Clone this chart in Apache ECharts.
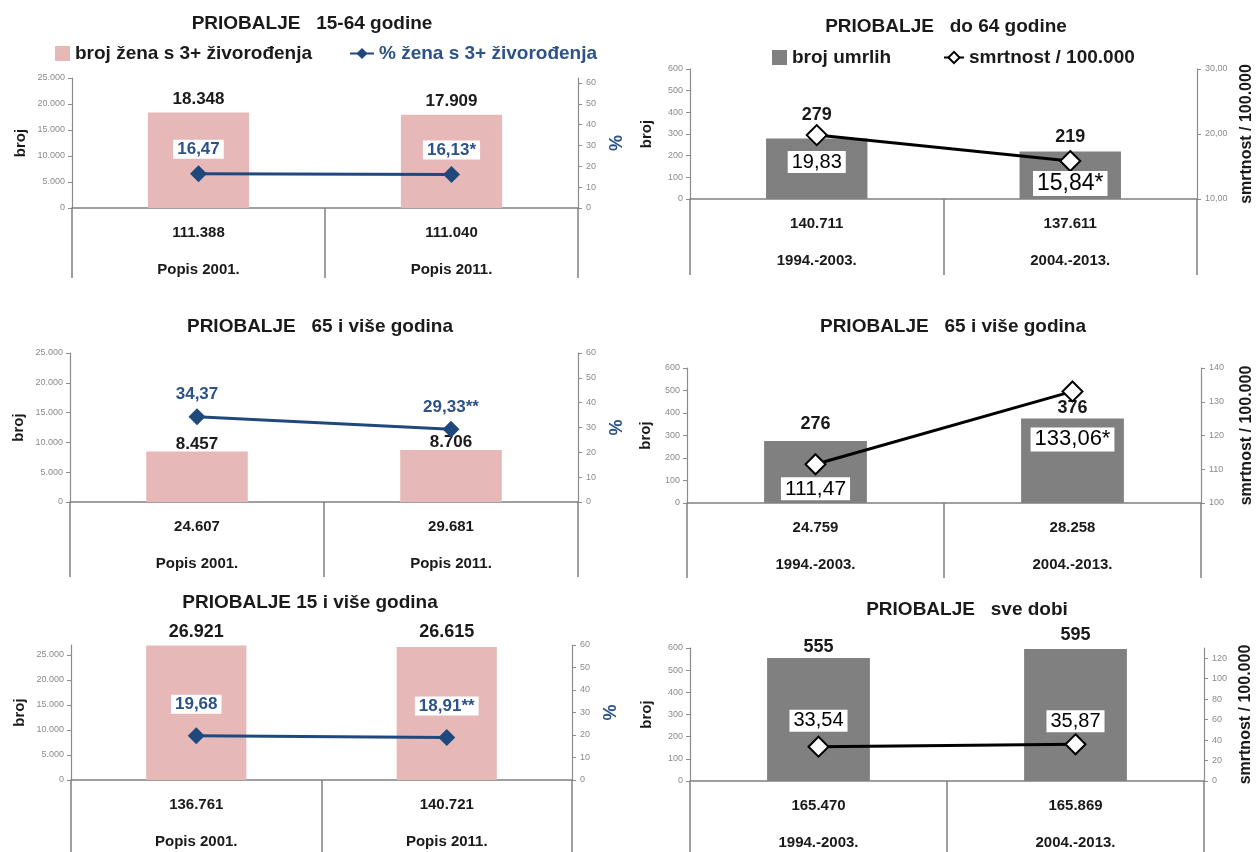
<!DOCTYPE html>
<html><head><meta charset="utf-8">
<script src="https://cdn.jsdelivr.net/npm/echarts@6/dist/echarts.min.js"></script>
<style>html,body{margin:0;padding:0;background:#fff}#c{width:1256px;height:852px}</style>
</head><body><div id="c"></div>
<script>
// ---------- DATA ----------
const censusYears = ['Popis 2001.', 'Popis 2011.'];
const periods = ['1994.-2003.', '2004.-2013.'];

const titles = [
  'PRIOBALJE   15-64 godine',
  'PRIOBALJE   do 64 godine',
  'PRIOBALJE   65 i više godina',
  'PRIOBALJE   65 i više godina',
  'PRIOBALJE 15 i više godina',
  'PRIOBALJE   sve dobi'
];

const nameWomenCount = 'broj žena s 3+ živorođenja';
const nameWomenPct = '% žena s 3+ živorođenja';
const nameDeaths = 'broj umrlih';
const nameRate = 'smrtnost / 100.000';

// women with 3+ live births
const women15_64Count = [18348, 17909];
const women15_64Pct = [16.47, 16.13];
const women15_64Note = ['', '*'];
const women15_64Total = [111388, 111040];

const women65Count = [8457, 8706];
const women65Pct = [34.37, 29.33];
const women65Note = ['', '**'];
const women65Total = [24607, 29681];

const women15plusCount = [26921, 26615];
const women15plusPct = [19.68, 18.91];
const women15plusNote = ['', '**'];
const women15plusTotal = [136761, 140721];

// deaths
const deathsTo64 = [279, 219];
const rateTo64 = [19.83, 15.84];
const rateTo64Note = ['', '*'];
const popTo64 = [140711, 137611];

const deaths65 = [276, 376];
const rate65 = [111.47, 133.06];
const rate65Note = ['', '*'];
const pop65 = [24759, 28258];

const deathsAll = [555, 595];
const rateAll = [33.54, 35.87];
const rateAllNote = ['', ''];
const popAll = [165470, 165869];

// ---------- HELPERS ----------
const FF = '"Liberation Sans", Arial, sans-serif';
const fmtInt = n => String(Math.round(n)).replace(/\B(?=(\d{3})+(?!\d))/g, '.');
const fmtDec = n => n.toFixed(2).replace('.', ',');
const AX = '#8c8c8c';
const PINK = '#e6b9b8';
const BLUE = '#1f497d';
const BLUE_T = '#2d5287';
const GREY = '#808080';

const option = {
  backgroundColor: '#fff',
  animation: false,
  textStyle: { fontFamily: FF },
  graphic: [], legend: [], grid: [], xAxis: [], yAxis: [], series: []
};

function addPanel(p) {
  const gi = option.grid.length;
  option.grid.push(Object.assign({ containLabel: false }, p.grid));
  option.graphic.push({
    type: 'text', x: p.titlePos[0], y: p.titlePos[1], z: 100,
    style: {
      text: p.title, textAlign: 'center', textVerticalAlign: 'middle',
      font: 'bold 19px ' + FF, fill: '#1a1a1a'
    }
  });
  option.xAxis.push({
    type: 'category', gridIndex: gi, data: p.cats,
    axisLine: { show: true, lineStyle: { color: GREY, width: 1.5 } },
    axisTick: { show: true, interval: 0, length: p.tickLen, lineStyle: { color: GREY, width: 1.5 } },
    axisLabel: {
      interval: 0, margin: 6,
      formatter: (v, idx) => '{a|' + fmtInt(p.totals[idx]) + '}\n{b|' + v + '}',
      rich: {
        a: { fontFamily: FF, fontSize: 15, fontWeight: 'bold', color: '#1a1a1a', lineHeight: 37 },
        b: { fontFamily: FF, fontSize: 15, fontWeight: 'bold', color: '#1a1a1a', lineHeight: 37 }
      }
    },
    splitLine: { show: false }
  });
  const yi = option.yAxis.length;
  option.yAxis.push({
    type: 'value', gridIndex: gi, position: 'left',
    min: p.left.min, max: p.left.max, interval: p.left.interval,
    axisLine: { show: true, lineStyle: { color: AX, width: 1.2 } },
    axisTick: { show: true, length: 4, lineStyle: { color: AX } },
    axisLabel: { fontFamily: FF, fontSize: 9, color: '#8a8a8a', margin: 7, showMaxLabel: p.left.showMax !== false, formatter: v => fmtInt(v) },
    splitLine: { show: false },
    name: 'broj', nameLocation: 'middle', nameRotate: 90, nameGap: p.left.nameGap,
    nameTextStyle: { fontFamily: FF, fontSize: 15, fontWeight: 'bold', color: '#1a1a1a' }
  });
  option.yAxis.push({
    type: 'value', gridIndex: gi, position: 'right',
    min: p.right.min, max: p.right.max, interval: p.right.interval,
    axisLine: { show: true, lineStyle: { color: AX, width: 1.2 } },
    axisTick: { show: true, length: 4, lineStyle: { color: AX } },
    axisLabel: { fontFamily: FF, fontSize: 9, color: '#8a8a8a', margin: 8, showMaxLabel: p.right.showMax !== false, formatter: p.right.fmt },
    splitLine: { show: false },
    name: p.right.name, nameLocation: 'middle', nameRotate: 90, nameGap: p.right.nameGap,
    nameTextStyle: { fontFamily: FF, fontSize: p.right.nameSize, fontWeight: 'bold', color: p.right.nameColor }
  });
  option.series.push({
    type: 'bar', name: p.barName, xAxisIndex: gi, yAxisIndex: yi,
    barWidth: '40%', itemStyle: { color: p.barColor },
    data: p.bars.map((v, i) => ({ value: v, label: { distance: p.barLabelDist[i] } })),
    label: {
      show: true, position: 'top', fontFamily: FF, fontSize: p.barLabelSize, fontWeight: 'bold', color: '#1a1a1a',
      formatter: q => fmtInt(q.value)
    },
    z: 2
  });
  option.series.push({
    type: 'line', name: p.lineName, xAxisIndex: gi, yAxisIndex: yi + 1,
    symbol: 'diamond', symbolSize: p.symbolSize,
    lineStyle: { color: p.lineColor, width: 3 },
    itemStyle: p.hollow ? { color: '#fff', borderColor: '#000', borderWidth: 2 } : { color: p.lineColor },
    data: p.line.map((v, i) => ({
      value: v,
      label: { distance: p.lineLabelDist[i], fontSize: p.lineLabelSize[i] }
    })),
    label: {
      show: true, position: p.lineLabelPos, fontFamily: FF, fontWeight: p.lineLabelWeight, color: p.lineLabelColor,
      backgroundColor: '#fff', padding: [1, 4],
      formatter: q => fmtDec(q.value) + p.notes[q.dataIndex]
    },
    z: 5
  });
}

// ---------- PANELS ----------
const pctAxis = { min: 0, max: 62.4, interval: 10, showMax: false, fmt: v => String(v), name: '%', nameGap: 30, nameSize: 18, nameColor: BLUE_T };

addPanel({
  title: titles[0], grid: { left: 72, top: 78, width: 506, height: 130 }, titlePos: [312, 24],
  cats: censusYears, totals: women15_64Total, tickLen: 70,
  left: { min: 0, max: 25000, interval: 5000, nameGap: 44 },
  right: pctAxis,
  barName: nameWomenCount, barColor: PINK, bars: women15_64Count, barLabelDist: [4.5, 5.5], barLabelSize: 17,
  lineName: nameWomenPct, lineColor: BLUE, hollow: false, symbolSize: 17, line: women15_64Pct, notes: women15_64Note,
  lineLabelPos: 'top', lineLabelDist: [6.5, 6.5], lineLabelSize: [17, 17], lineLabelWeight: 'bold', lineLabelColor: BLUE_T
});

addPanel({
  title: titles[1], grid: { left: 690, top: 69, width: 507, height: 130 }, titlePos: [946, 27],
  cats: periods, totals: popTo64, tickLen: 76,
  left: { min: 0, max: 600, interval: 100, nameGap: 36 },
  right: { min: 10, max: 30, interval: 10, fmt: v => fmtDec(v), name: nameRate, nameGap: 42, nameSize: 16, nameColor: '#1a1a1a' },
  barName: nameDeaths, barColor: GREY, bars: deathsTo64, barLabelDist: [15, 5.5], barLabelSize: 18,
  lineName: nameRate, lineColor: '#000', hollow: true, symbolSize: 20, line: rateTo64, notes: rateTo64Note,
  lineLabelPos: 'bottom', lineLabelDist: [5, -1], lineLabelSize: [20, 23], lineLabelWeight: 'normal', lineLabelColor: '#000'
});

addPanel({
  title: titles[2], grid: { left: 70, top: 353, width: 508, height: 149 }, titlePos: [320, 327],
  cats: censusYears, totals: women65Total, tickLen: 75,
  left: { min: 0, max: 25000, interval: 5000, nameGap: 44 },
  right: Object.assign({}, pctAxis, { max: 60, showMax: true }),
  barName: nameWomenCount, barColor: PINK, bars: women65Count, barLabelDist: [-1, -1], barLabelSize: 17,
  lineName: nameWomenPct, lineColor: BLUE, hollow: false, symbolSize: 17, line: women65Pct, notes: women65Note,
  lineLabelPos: 'top', lineLabelDist: [4.5, 3.5], lineLabelSize: [17, 17], lineLabelWeight: 'bold', lineLabelColor: BLUE_T
});

addPanel({
  title: titles[3], grid: { left: 687, top: 368, width: 515, height: 135 }, titlePos: [953, 327],
  cats: periods, totals: pop65, tickLen: 75,
  left: { min: 0, max: 600, interval: 100, nameGap: 34 },
  right: { min: 100, max: 140, interval: 10, fmt: v => String(v), name: nameRate, nameGap: 38, nameSize: 16, nameColor: '#1a1a1a' },
  barName: nameDeaths, barColor: GREY, bars: deaths65, barLabelDist: [8, 1], barLabelSize: 18,
  lineName: nameRate, lineColor: '#000', hollow: true, symbolSize: 20, line: rate65, notes: rate65Note,
  lineLabelPos: 'bottom', lineLabelDist: [2, 25], lineLabelSize: [21, 22], lineLabelWeight: 'normal', lineLabelColor: '#000'
});

addPanel({
  title: titles[4], grid: { left: 71, top: 645, width: 501, height: 135 }, titlePos: [310, 603],
  cats: censusYears, totals: women15plusTotal, tickLen: 75,
  left: { min: 0, max: 27000, interval: 5000, showMax: false, nameGap: 44 },
  right: Object.assign({}, pctAxis, { max: 60, showMax: true }),
  barName: nameWomenCount, barColor: PINK, bars: women15plusCount, barLabelDist: [4.5, 5.5], barLabelSize: 18,
  lineName: nameWomenPct, lineColor: BLUE, hollow: false, symbolSize: 17, line: women15plusPct, notes: women15plusNote,
  lineLabelPos: 'top', lineLabelDist: [13.5, 13.5], lineLabelSize: [17, 17], lineLabelWeight: 'bold', lineLabelColor: BLUE_T
});

addPanel({
  title: titles[5], grid: { left: 690, top: 648, width: 514, height: 133 }, titlePos: [967, 610],
  cats: periods, totals: popAll, tickLen: 75,
  left: { min: 0, max: 600, interval: 100, nameGap: 36 },
  right: { min: 0, max: 130, interval: 20, showMax: false, fmt: v => String(v), name: nameRate, nameGap: 34, nameSize: 16, nameColor: '#1a1a1a' },
  barName: nameDeaths, barColor: GREY, bars: deathsAll, barLabelDist: [2, 5], barLabelSize: 18,
  lineName: nameRate, lineColor: '#000', hollow: true, symbolSize: 20, line: rateAll, notes: rateAllNote,
  lineLabelPos: 'top', lineLabelDist: [4, 1], lineLabelSize: [20, 20], lineLabelWeight: 'normal', lineLabelColor: '#000'
});

// ---------- LEGENDS ----------
const legText = (c) => ({ fontFamily: FF, fontSize: 19, fontWeight: 'bold', color: c });
option.legend = [
  { data: [nameWomenCount], left: 50, top: 39, icon: 'rect', itemWidth: 15, itemHeight: 15, itemGap: 0, textStyle: legText('#1a1a1a'), selectedMode: false },
  { data: [nameWomenPct], left: 344, top: 39, itemWidth: 24, itemHeight: 14, textStyle: legText(BLUE_T), selectedMode: false },
  { data: [nameDeaths], left: 767, top: 43, icon: 'rect', itemWidth: 15, itemHeight: 15, textStyle: legText('#1a1a1a'), selectedMode: false },
  { data: [nameRate], left: 938, top: 43, itemWidth: 20, itemHeight: 14, textStyle: legText('#1a1a1a'), selectedMode: false }
];

const chart = echarts.init(document.getElementById('c'), null, { renderer: 'canvas' });
chart.setOption(option);
</script>
</body></html>
